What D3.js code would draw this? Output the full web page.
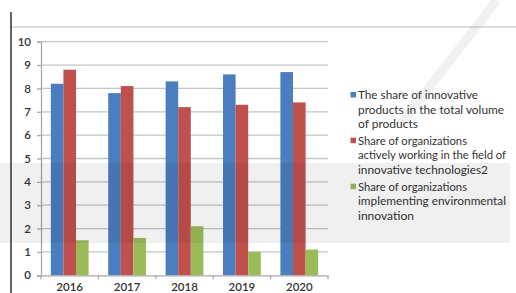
<!DOCTYPE html>
<html><head><meta charset="utf-8">
<script src="https://cdn.jsdelivr.net/npm/d3@7"></script>
<style>html,body{margin:0;padding:0;background:#fff;}svg{display:block;}</style>
</head><body>
<script>
const years = ["2016","2017","2018","2019","2020"];
const seriesNames = [
  ["The share of innovative","products in the total volume","of products"],
  ["Share of organizations","actively working in the field of","innovative technologies2"],
  ["Share of organizations","implementing environmental","innovation"]
];
const innovativeProducts = [8.2, 7.8, 8.3, 8.6, 8.7];
const activeOrganizations = [8.8, 8.1, 7.2, 7.3, 7.4];
const environmentalInnovation = [1.5, 1.6, 2.1, 1.0, 1.1];
const yTicks = [0,1,2,3,4,5,6,7,8,9,10];
const colors = ["#4a7ebf", "#c0504d", "#9bbb59"];
const seriesValues = [innovativeProducts, activeOrganizations, environmentalInnovation];

// layout / style (text widths of legend lines, to mimic the original narrow font)
const legendLineWidths = [[120, 146, 60], [109, 148, 130], [109, 148, 56]];

const W = 516, H = 293;
const svg = d3.select("body").append("svg").attr("width", W).attr("height", H);
const font = "Lato, 'Open Sans', sans-serif";

// frame lines
svg.append("line").attr("x1", 11).attr("x2", W).attr("y1", 27).attr("y2", 27)
  .attr("stroke", "#d2d2d2").attr("stroke-width", 1.5);
svg.append("line").attr("x1", 11).attr("x2", 11).attr("y1", 12).attr("y2", H)
  .attr("stroke", "#000").attr("stroke-width", 1.2);

const x0 = d3.scaleBand().domain(years).range([41, 328]).paddingInner(0).paddingOuter(0);
const x1 = d3.scaleBand().domain([0,1,2]).range([0, x0.bandwidth()]).paddingInner(0).paddingOuter(0.78);
const y = d3.scaleLinear().domain([0, 10]).range([275.3, 41.7]);

// gridlines
svg.append("g").selectAll("line").data(yTicks.filter(d => d > 0)).join("line")
  .attr("x1", 41).attr("x2", 328).attr("y1", d => y(d)).attr("y2", d => y(d))
  .attr("stroke", "#c4c4c4").attr("stroke-width", 1.3);

// bars
const rows = years.map((yr, i) => ({yr, vals: seriesValues.map(s => s[i])}));
svg.append("g").selectAll("g").data(rows).join("g")
  .attr("transform", d => `translate(${x0(d.yr)},0)`)
  .selectAll("rect").data(d => d.vals.map((v, k) => ({v, k}))).join("rect")
  .attr("x", d => x1(d.k)).attr("width", x1.bandwidth())
  .attr("y", d => y(d.v)).attr("height", d => y(0) - y(d.v))
  .attr("fill", d => colors[d.k]);

// y axis
const yAxis = svg.append("g").attr("transform", "translate(41,0)")
  .call(d3.axisLeft(y).tickValues(yTicks).tickSize(4).tickPadding(6).tickFormat(d3.format("d")));
yAxis.select(".domain").attr("stroke", "#a8a8a8").attr("stroke-width", 1.3);
yAxis.selectAll(".tick line").attr("stroke", "#a8a8a8").attr("stroke-width", 1.3);
yAxis.selectAll("text").attr("fill", "#333").style("font-family", font).style("font-size", "11.5px").style("font-weight", "600");

// x axis
const xAxis = svg.append("g").attr("transform", `translate(0,${y(0)})`)
  .call(d3.axisBottom(x0).tickSize(0).tickPadding(7.5));
xAxis.select(".domain").attr("stroke", "#a8a8a8").attr("stroke-width", 1.3);
xAxis.selectAll("text").attr("fill", "#333").style("font-family", font).style("font-size", "11.5px").style("font-weight", "600");
const bounds = x0.domain().map(d => x0(d)).concat([x0.range()[1]]);
svg.append("g").selectAll("line").data(bounds).join("line")
  .attr("x1", d => d).attr("x2", d => d)
  .attr("y1", y(0)).attr("y2", y(0) + 4).attr("stroke", "#a8a8a8").attr("stroke-width", 1.3);

// legend
const legStarts = [95, 140.7, 186.7];
const leg = svg.append("g");
seriesNames.forEach((lines, k) => {
  leg.append("rect").attr("x", 350.5).attr("y", legStarts[k] - 3).attr("width", 5.5).attr("height", 5.5).attr("fill", colors[k]);
  lines.forEach((t, j) => {
    leg.append("text").attr("x", 358).attr("y", legStarts[k] + j * 14.3 + 4.3)
      .attr("fill", "#333").style("font-family", font).style("font-size", "12px")
      .attr("textLength", legendLineWidths[k][j]).attr("lengthAdjust", "spacingAndGlyphs")
      .text(t);
  });
});

// watermark (faint)
const wm = svg.append("g").attr("pointer-events", "none");
wm.append("rect").attr("x", 0).attr("y", 163).attr("width", 510).attr("height", 80).attr("fill", "#000").attr("opacity", 0.06);
wm.append("line").attr("x1", 497).attr("y1", 0).attr("x2", 400).attr("y2", 125).attr("stroke", "#000").attr("stroke-width", 9).attr("opacity", 0.05);
</script>
</body></html>
